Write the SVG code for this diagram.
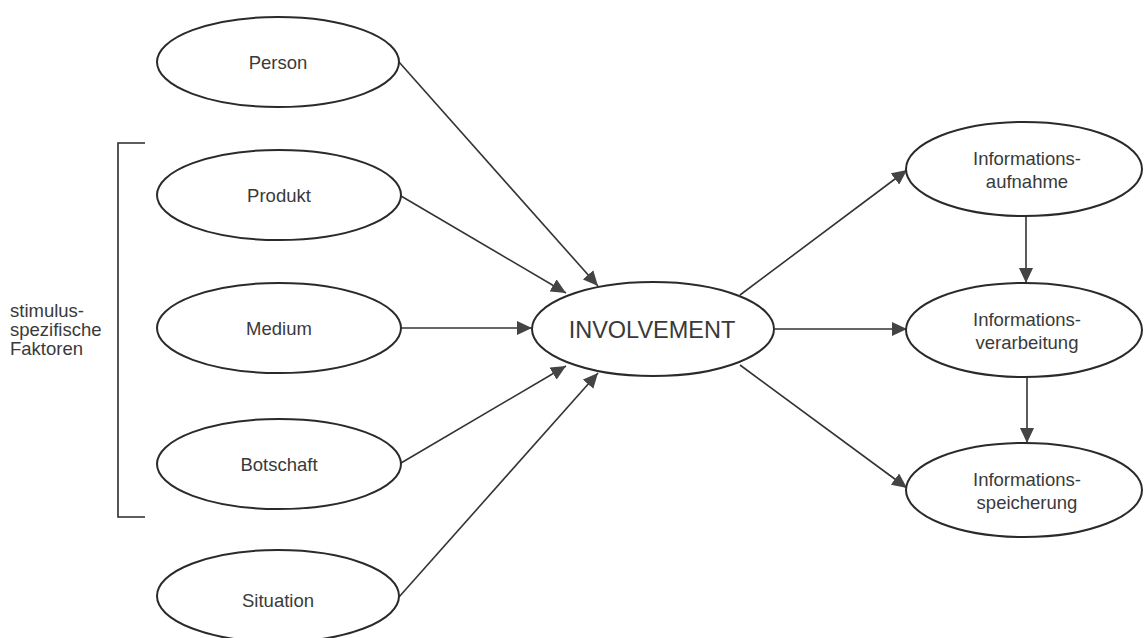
<svg xmlns="http://www.w3.org/2000/svg" width="1146" height="638" viewBox="0 0 1146 638">
  <style>
    .node ellipse { fill: #ffffff; stroke: #2a2a2a; stroke-width: 2; }
    .lbl { font-family: "Liberation Sans", Arial, sans-serif; font-size: 18.5px; fill: #3a3a3a; text-anchor: middle; }
    .big { font-size: 23.5px; }
    .side { font-family: "Liberation Sans", Arial, sans-serif; font-size: 18.5px; fill: #3a3a3a; }
    .edge { fill: none; stroke: #333333; stroke-width: 1.6; marker-end: url(#arrow); }
    .bracket { fill: none; stroke: #2a2a2a; stroke-width: 1.6; }
  </style>
  <defs>
    <marker id="arrow" markerUnits="userSpaceOnUse" markerWidth="16" markerHeight="14" refX="15" refY="7" orient="auto">
      <path d="M0,0 L15,7 L0,14 Z" fill="#444444"/>
    </marker>
  </defs>
  <rect width="1146" height="638" fill="#ffffff"/>

  <!-- bracket grouping the stimulus-specific factors -->
  <g id="stimulus-group">
    <path class="bracket" d="M145,143 L118,143 L118,517 L145,517"/>
    <text class="side" x="10" y="317">stimulus-</text>
    <text class="side" x="10" y="336">spezifische</text>
    <text class="side" x="10" y="355">Faktoren</text>
  </g>

  <!-- connectors -->
  <g id="connectors">
    <line class="edge" x1="399" y1="62" x2="598" y2="286"/>
    <line class="edge" x1="401" y1="196" x2="566" y2="293"/>
    <line class="edge" x1="401" y1="328" x2="532" y2="328"/>
    <line class="edge" x1="401" y1="463" x2="566" y2="366"/>
    <line class="edge" x1="399" y1="597" x2="598" y2="373"/>
    <line class="edge" x1="740" y1="295" x2="907" y2="170"/>
    <line class="edge" x1="775" y1="329" x2="907" y2="329"/>
    <line class="edge" x1="740" y1="365" x2="907" y2="488"/>
    <line class="edge" x1="1026" y1="216" x2="1026" y2="283"/>
    <line class="edge" x1="1027" y1="377" x2="1027" y2="443"/>
  </g>

  <!-- left nodes -->
  <g id="person" class="node">
    <ellipse cx="278" cy="62" rx="121" ry="45"/>
    <text class="lbl" x="278" y="69">Person</text>
  </g>
  <g id="produkt" class="node">
    <ellipse cx="279" cy="195" rx="122" ry="45"/>
    <text class="lbl" x="279" y="202">Produkt</text>
  </g>
  <g id="medium" class="node">
    <ellipse cx="279" cy="328" rx="122" ry="45"/>
    <text class="lbl" x="279" y="335">Medium</text>
  </g>
  <g id="botschaft" class="node">
    <ellipse cx="279" cy="464" rx="122" ry="45"/>
    <text class="lbl" x="279" y="471">Botschaft</text>
  </g>
  <g id="situation" class="node">
    <ellipse cx="278" cy="596" rx="121" ry="46"/>
    <text class="lbl" x="278" y="607">Situation</text>
  </g>

  <!-- central node -->
  <g id="involvement" class="node">
    <ellipse cx="653" cy="329" rx="121" ry="47"/>
    <text class="lbl big" x="652" y="338">INVOLVEMENT</text>
  </g>

  <!-- right nodes -->
  <g id="aufnahme" class="node">
    <ellipse cx="1024" cy="169" rx="118" ry="47"/>
    <text class="lbl" x="1027" y="165">Informations-</text>
    <text class="lbl" x="1027" y="188">aufnahme</text>
  </g>
  <g id="verarbeitung" class="node">
    <ellipse cx="1024" cy="330" rx="118" ry="47"/>
    <text class="lbl" x="1027" y="326">Informations-</text>
    <text class="lbl" x="1027" y="349">verarbeitung</text>
  </g>
  <g id="speicherung" class="node">
    <ellipse cx="1024" cy="490" rx="118" ry="47"/>
    <text class="lbl" x="1027" y="486">Informations-</text>
    <text class="lbl" x="1027" y="509">speicherung</text>
  </g>
</svg>
